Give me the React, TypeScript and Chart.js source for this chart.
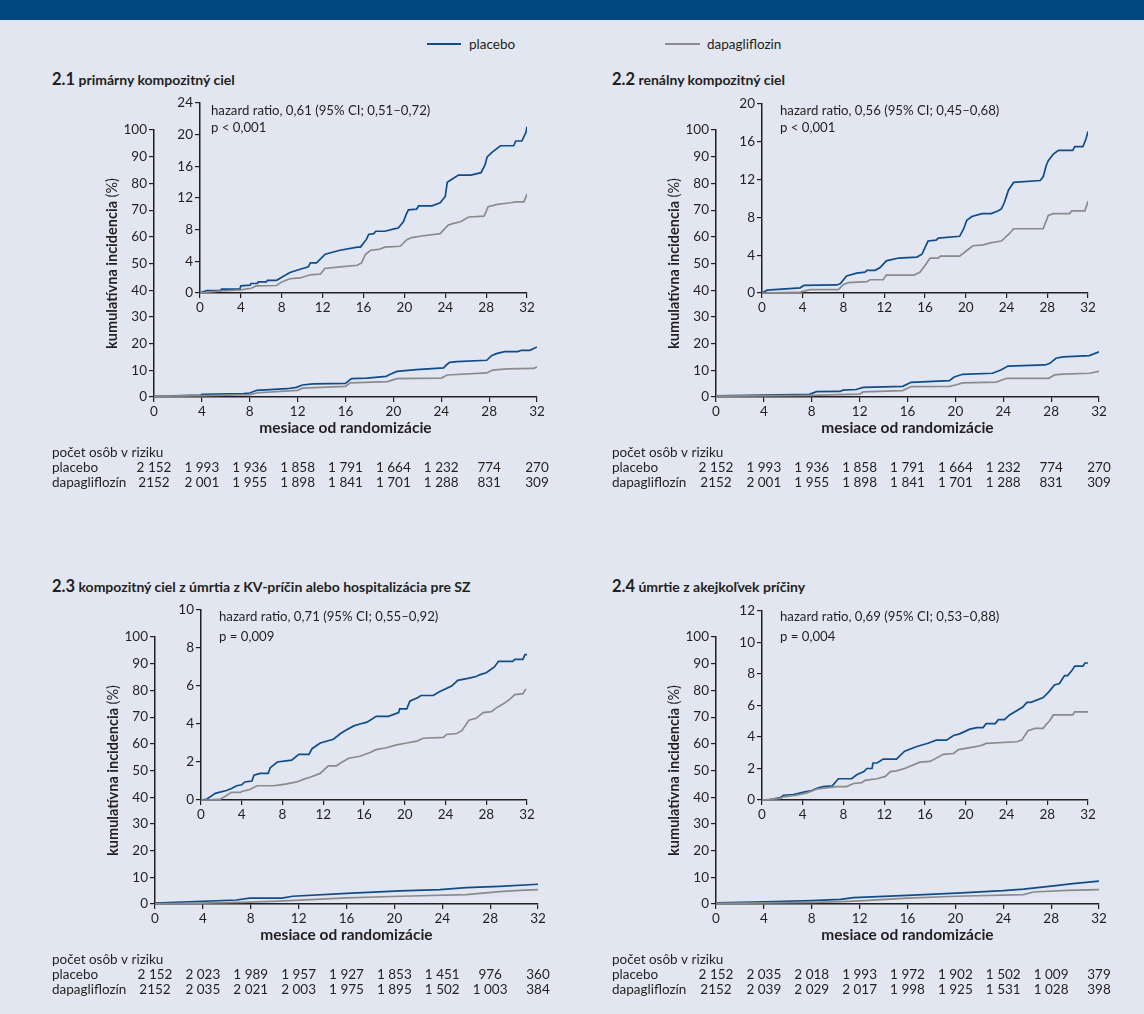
import React, { useEffect, useRef } from "react";
import { Chart, registerables } from "chart.js";

Chart.register(...registerables);

const BLUE = "#114c89";
const GRAY = "#8b8b8b";
const INK = "#231f20";
const BG = "#e2e6f1";
const BAND = "#00467f";
const FONT = "Lato, 'Open Sans', sans-serif";

type Pt = [number, number];

// ---------- data ----------
const xTickValues = [0, 4, 8, 12, 16, 20, 24, 28, 32];
const riskHeader = "počet osôb v riziku";
const seriesNames = ["placebo", "dapagliflozin"];
const riskRowNames = ["placebo", "dapagliflozín"];

// 2.1 primary composite
const main21Placebo: Pt[] = [[0,0.25],[3.9,0.75],[4,1.0],[7.5,1.25],[8,1.5],[8.6,2.5],[11.1,3.1],[11.9,3.6],[12.4,4.5],[13.3,4.9],[16,5.1],[16.5,6.9],[17.8,7.1],[19.4,7.75],[19.7,8.4],[20.3,9.6],[21.9,10.25],[24.2,10.9],[24.4,11.9],[24.7,13],[25.3,13.25],[27.8,13.75],[28.2,15.5],[28.6,16.25],[29.3,17],[30.4,17],[30.7,17.5],[31.4,17.5],[32,18.75]];
const main21Dapa: Pt[] = [[0,0.25],[4,0.5],[8,0.9],[8.7,1.6],[12,2.5],[12.4,3.3],[16,4.0],[16.4,5.3],[19.5,5.75],[20.3,6.9],[24,7.1],[24.5,8.25],[27.8,9.0],[28.3,10.1],[29.5,10.5],[31.7,10.7],[32,11.25]];
const inset21Placebo: Pt[] = [[0,0],[0.65,0.3],[2.0,0.3],[2.1,0.5],[3.9,0.5],[4.0,0.9],[4.9,1.0],[5.0,1.2],[5.6,1.2],[5.7,1.4],[6.5,1.4],[6.6,1.6],[7.5,1.6],[8.0,2.0],[8.8,2.6],[9.8,3.0],[10.6,3.3],[10.8,3.8],[11.4,3.8],[12.25,4.9],[13.7,5.4],[15.4,5.8],[15.7,5.8],[16.3,6.8],[16.5,7.4],[17.0,7.5],[17.2,7.8],[18.1,7.8],[19.0,8.1],[19.4,8.2],[19.9,9.0],[20.2,10.0],[20.4,10.5],[21.2,10.6],[21.4,11.0],[22.7,11.0],[23.5,11.4],[24.0,12.2],[24.2,14.0],[24.8,14.5],[25.3,14.9],[26.5,14.9],[27.5,15.2],[27.9,16.2],[28.1,17.2],[28.6,17.8],[29.4,18.6],[30.7,18.6],[30.9,19.2],[31.5,19.2],[31.9,20.3],[32,21.0]];
const inset21Dapa: Pt[] = [[0,0],[1,0.15],[2,0.25],[4,0.4],[5,0.6],[5.5,0.9],[7.5,0.95],[8,1.4],[8.8,1.8],[9.8,1.9],[10.8,2.3],[11.8,2.4],[12.2,3.1],[13.7,3.3],[15.4,3.5],[15.8,3.8],[16.2,4.9],[16.7,5.4],[17.5,5.5],[18.1,5.8],[19.6,5.9],[20.2,6.7],[20.7,7.0],[21.7,7.2],[23.5,7.5],[24.3,8.6],[24.8,8.8],[25.5,9.0],[26.3,9.6],[27.8,9.7],[28.2,10.9],[29.1,11.2],[30.4,11.4],[30.9,11.5],[31.7,11.5],[32,12.5]];
const risk21Placebo = ["2 152","1 993","1 936","1 858","1 791","1 664","1 232","774","270"];
const risk21Dapa = ["2152","2 001","1 955","1 898","1 841","1 701","1 288","831","309"];

// 2.2 renal composite
const main22Placebo: Pt[] = [[0,0.4],[7.8,1.0],[8.4,2.0],[10.4,2.1],[10.6,2.6],[11.7,2.8],[12.3,3.6],[15.6,4.0],[16.3,5.5],[19.5,6.1],[19.9,7.5],[20.6,8.5],[23.1,8.9],[23.8,10.1],[24.4,11.6],[27.5,12.0],[27.9,12.6],[28.4,14.5],[29,15.0],[31.2,15.5],[32,16.9]];
const main22Dapa: Pt[] = [[0,0.3],[7.8,0.6],[12,1.1],[12.3,1.9],[15.6,2.4],[16.3,3.9],[19.5,4.0],[20.1,4.6],[20.6,5.3],[23.4,5.6],[24.3,7.0],[27.8,7.0],[28.3,8.3],[29,8.6],[31.2,8.9],[32,9.6]];
const inset22Placebo: Pt[] = [[0,0],[0.5,0.3],[3.75,0.55],[4.1,0.8],[7.35,0.85],[7.7,1.0],[8.3,1.8],[9.3,2.1],[10.1,2.2],[10.3,2.4],[11.1,2.4],[11.6,2.7],[12.2,3.4],[12.6,3.5],[13.4,3.7],[15.2,3.8],[15.7,4.1],[16.0,4.8],[16.3,5.5],[17.1,5.6],[17.3,5.8],[19.4,6.0],[19.8,6.8],[20.1,7.7],[20.6,8.1],[21.6,8.4],[22.5,8.4],[23.2,8.7],[23.5,8.9],[23.8,9.6],[24.2,10.9],[24.7,11.7],[27.3,11.9],[27.6,12.3],[27.9,13.5],[28.1,14.0],[28.6,14.7],[29.1,15.1],[30.5,15.1],[30.7,15.5],[31.5,15.5],[31.8,16.3],[32,17.1]];
const inset22Dapa: Pt[] = [[0,0],[3.75,0.1],[4.7,0.35],[7.5,0.35],[8,0.9],[8.5,1.1],[10.3,1.2],[10.6,1.4],[11.9,1.4],[12.2,1.9],[14.9,1.9],[15.5,2.2],[16,2.9],[16.5,3.7],[17.3,3.7],[17.5,3.9],[19.4,3.9],[20.1,4.5],[20.7,5.0],[21.7,5.1],[22.4,5.3],[23.5,5.5],[24.3,6.3],[24.7,6.8],[27.6,6.8],[28.1,8.2],[28.6,8.4],[30.2,8.4],[30.4,8.7],[31.7,8.7],[32,9.7]];
const risk22Placebo = ["2 152","1 993","1 936","1 858","1 791","1 664","1 232","774","270"];
const risk22Dapa = ["2152","2 001","1 955","1 898","1 841","1 701","1 288","831","309"];

// 2.3 CV death or HF hospitalisation
const main23Placebo: Pt[] = [[0,0.3],[6.8,1.5],[7.9,2.2],[10.6,2.2],[11.5,2.9],[16,4.0],[20.5,4.9],[23.8,5.4],[26,6.1],[28.8,6.6],[32,7.4]];
const main23Dapa: Pt[] = [[0,0.1],[3.7,0.3],[7.9,0.7],[10.4,1.1],[16,2.3],[20.5,2.9],[26,3.5],[28.8,4.6],[30.5,5.1],[32,5.4]];
const inset23Placebo: Pt[] = [[0,0],[0.6,0.05],[1.4,0.35],[2.5,0.5],[3,0.6],[3.5,0.75],[4,0.8],[4.3,0.95],[5,1.0],[5.2,1.3],[5.8,1.4],[6.6,1.4],[6.8,1.7],[7.5,2.0],[8.9,2.1],[9.6,2.4],[10.6,2.4],[10.9,2.7],[11.7,3.0],[13,3.2],[13.7,3.5],[14.3,3.7],[15,3.9],[15.6,4.0],[16.3,4.1],[17.2,4.4],[18.4,4.4],[19.4,4.6],[19.5,4.8],[20.2,4.8],[20.5,5.2],[21.3,5.4],[21.6,5.5],[22.8,5.5],[23.4,5.7],[24.6,6.0],[25.2,6.3],[26.2,6.4],[27,6.5],[27.4,6.6],[28,6.7],[28.8,7.0],[29.2,7.3],[30.6,7.3],[30.8,7.4],[31.6,7.4],[31.8,7.65],[32,7.65]];
const inset23Dapa: Pt[] = [[0,0],[0.6,0],[1.9,0.05],[2.4,0.2],[3,0.4],[3.9,0.4],[4,0.45],[4.8,0.55],[5.5,0.75],[7.1,0.75],[7.8,0.8],[8.4,0.85],[9.4,0.95],[10.1,1.1],[10.7,1.2],[11.7,1.4],[12.5,1.8],[13.3,1.8],[13.7,1.95],[14.5,2.2],[15.6,2.3],[16.6,2.5],[17.2,2.65],[18.2,2.75],[19.2,2.9],[20.2,3.0],[21.2,3.1],[21.8,3.25],[23.8,3.3],[24.1,3.45],[25.1,3.5],[25.6,3.65],[26.3,4.2],[27,4.3],[27.7,4.6],[28.5,4.65],[29,4.85],[29.8,5.1],[30.3,5.3],[30.8,5.55],[31.6,5.6],[31.9,5.85]];
const risk23Placebo = ["2 152","2 023","1 989","1 957","1 927","1 853","1 451","976","360"];
const risk23Dapa = ["2152","2 035","2 021","2 003","1 975","1 895","1 502","1 003","384"];

// 2.4 all-cause death
const main24Placebo: Pt[] = [[0,0.4],[4,0.8],[8,1.3],[10.4,1.7],[11.5,2.4],[16,3.2],[20.1,4.1],[24,5.0],[25.7,5.6],[28.4,6.9],[29.8,7.6],[32,8.6]];
const main24Dapa: Pt[] = [[0,0.2],[8,0.6],[10.4,0.9],[12,1.2],[16,2.2],[20.1,2.9],[25.7,3.5],[26.5,4.5],[29.3,5.1],[32,5.4]];
const inset24Placebo: Pt[] = [[0,0],[0.8,0.03],[1.8,0.15],[2.1,0.3],[3.1,0.35],[4.1,0.5],[4.9,0.6],[5.4,0.75],[6,0.85],[6.9,0.9],[7.5,1.35],[8.8,1.35],[9.3,1.6],[10,1.8],[10.3,2.0],[10.8,2.0],[10.9,2.35],[11.3,2.35],[11.9,2.6],[13.2,2.6],[14,3.1],[15.2,3.4],[16.3,3.6],[17.1,3.8],[18.1,3.8],[18.8,4.1],[19.4,4.2],[20.4,4.5],[21.1,4.6],[21.7,4.6],[22,4.85],[22.9,4.85],[23.2,5.1],[23.8,5.1],[24.3,5.4],[25.6,5.9],[26,6.2],[26.4,6.2],[27.6,6.5],[28.2,6.9],[28.7,7.3],[29.2,7.4],[29.4,7.6],[29.7,7.9],[30,7.9],[30.4,8.2],[30.7,8.5],[31.5,8.5],[31.7,8.7],[32,8.7]];
const inset24Dapa: Pt[] = [[0,0],[1.8,0.1],[2.1,0.2],[3.4,0.3],[4.4,0.45],[5.4,0.7],[6.7,0.8],[7.3,0.85],[8.3,0.85],[9,1.05],[9.8,1.1],[10.1,1.25],[11.3,1.35],[12.1,1.5],[12.6,1.8],[13.2,1.85],[14,2.0],[15.5,2.4],[16.5,2.45],[17.8,2.9],[18.8,2.95],[19.3,3.2],[21.1,3.4],[21.7,3.5],[22,3.6],[25,3.7],[25.5,3.8],[26.1,4.4],[26.8,4.55],[27.6,4.55],[27.9,4.8],[28.2,5.0],[28.6,5.4],[30.5,5.4],[30.7,5.6],[32,5.6]];
const risk24Placebo = ["2 152","2 035","2 018","1 993","1 972","1 902","1 502","1 009","379"];
const risk24Dapa = ["2152","2 039","2 029","2 017","1 998","1 925","1 531","1 028","398"];

// ---------- layout ----------
type Box = { L: number; R: number; T: number; B: number };
type Panel = {
  num: string; title: string; titleX: number; titleY: number;
  main: Box; inset: Box; insetMax: number; insetStep: number;
  hr: string; p: string; hrX: number; hrY1: number; hrY2: number;
  mainP: Pt[]; mainD: Pt[]; insP: Pt[]; insD: Pt[];
  riskP: string[]; riskD: string[]; riskLabelOffset: number;
};

const panels: Panel[] = [
  { num: "2.1", title: "primárny kompozitný ciel", titleX: 52, titleY: 79,
    main: { L: 154, R: 537, T: 130, B: 397 }, inset: { L: 200, R: 527, T: 103, B: 293 }, insetMax: 24, insetStep: 4,
    hr: "hazard ratio, 0,61 (95% CI; 0,51–0,72)", p: "p < 0,001", hrX: 211, hrY1: 110, hrY2: 127,
    mainP: main21Placebo, mainD: main21Dapa, insP: inset21Placebo, insD: inset21Dapa,
    riskP: risk21Placebo, riskD: risk21Dapa, riskLabelOffset: 102 },
  { num: "2.2", title: "renálny kompozitný ciel", titleX: 612, titleY: 79,
    main: { L: 716, R: 1099, T: 130, B: 397 }, inset: { L: 762, R: 1088, T: 104, B: 293 }, insetMax: 20, insetStep: 4,
    hr: "hazard ratio, 0,56 (95% CI; 0,45–0,68)", p: "p < 0,001", hrX: 780, hrY1: 110, hrY2: 127,
    mainP: main22Placebo, mainD: main22Dapa, insP: inset22Placebo, insD: inset22Dapa,
    riskP: risk22Placebo, riskD: risk22Dapa, riskLabelOffset: 104 },
  { num: "2.3", title: "kompozitný ciel z úmrtia z KV-príčin alebo hospitalizácia pre SZ", titleX: 52, titleY: 586,
    main: { L: 155, R: 538, T: 637, B: 904 }, inset: { L: 201, R: 527, T: 610, B: 800 }, insetMax: 10, insetStep: 2,
    hr: "hazard ratio, 0,71 (95% CI; 0,55–0,92)", p: "p = 0,009", hrX: 219, hrY1: 616, hrY2: 636,
    mainP: main23Placebo, mainD: main23Dapa, insP: inset23Placebo, insD: inset23Dapa,
    riskP: risk23Placebo, riskD: risk23Dapa, riskLabelOffset: 103 },
  { num: "2.4", title: "úmrtie z akejkoľvek príčiny", titleX: 612, titleY: 586,
    main: { L: 716, R: 1099, T: 637, B: 904 }, inset: { L: 762, R: 1088, T: 611, B: 800 }, insetMax: 12, insetStep: 2,
    hr: "hazard ratio, 0,69 (95% CI; 0,53–0,88)", p: "p = 0,004", hrX: 780, hrY1: 616, hrY2: 636,
    mainP: main24Placebo, mainD: main24Dapa, insP: inset24Placebo, insD: inset24Dapa,
    riskP: risk24Placebo, riskD: risk24Dapa, riskLabelOffset: 104 },
];

// ---------- plugins ----------
function makeYTitlePlugin(bold: string, normal: string, offset: number) {
  return {
    id: "yTitleCustom",
    afterDraw(chart: any) {
      const { ctx, chartArea } = chart;
      const x = chartArea.left - offset;
      const y = (chartArea.top + chartArea.bottom) / 2;
      ctx.save();
      ctx.translate(x, y);
      ctx.rotate(-Math.PI / 2);
      ctx.fillStyle = INK;
      ctx.textBaseline = "middle";
      ctx.textAlign = "left";
      const fb = `bold 14.5px ${FONT}`;
      const fn = `14.5px ${FONT}`;
      ctx.font = fb;
      const w1 = ctx.measureText(bold).width;
      ctx.font = fn;
      const w2 = ctx.measureText(normal).width;
      const sx = -(w1 + w2) / 2;
      ctx.font = fb;
      ctx.fillText(bold, sx, 0);
      ctx.font = fn;
      ctx.fillText(normal, sx + w1, 0);
      ctx.restore();
    },
  };
}

function makeRiskPlugin(placebo: string[], dapa: string[], labelOffset: number) {
  return {
    id: "riskTable",
    afterDraw(chart: any) {
      const { ctx, chartArea } = chart;
      const xs = chart.scales.x;
      ctx.save();
      ctx.fillStyle = INK;
      ctx.font = `13.5px ${FONT}`;
      ctx.textBaseline = "middle";
      const lx = chartArea.left - labelOffset;
      const y0 = chartArea.bottom + 56;
      ctx.textAlign = "left";
      ctx.fillText(riskHeader, lx, y0);
      const rows = [placebo, dapa];
      rows.forEach((vals, i) => {
        const y = chartArea.bottom + 71 + i * 15;
        ctx.textAlign = "left";
        ctx.fillText(riskRowNames[i], lx, y);
        ctx.textAlign = "center";
        vals.forEach((v, j) => ctx.fillText(v, xs.getPixelForValue(xTickValues[j]), y));
      });
      ctx.restore();
    },
  };
}

function axisCommon() {
  return {
    grid: { drawOnChartArea: false, drawTicks: true, tickLength: 5, color: INK, lineWidth: 1.2 },
    border: { display: true, color: INK, width: 1.5 },
  };
}

function lineDataset(label: string, pts: Pt[], color: string) {
  return {
    label,
    data: pts.map(([x, y]) => ({ x, y })),
    borderColor: color,
    borderWidth: 1.7,
    pointRadius: 0,
    tension: 0,
    fill: false,
  };
}

function ChartCanvas(props: { left: number; top: number; width: number; height: number; makeConfig: () => any }) {
  const ref = useRef<HTMLCanvasElement | null>(null);
  useEffect(() => {
    if (!ref.current) return;
    const chart = new Chart(ref.current, props.makeConfig());
    return () => chart.destroy();
  }, []);
  return (
    <canvas
      ref={ref}
      width={props.width}
      height={props.height}
      style={{ position: "absolute", left: props.left, top: props.top, width: props.width, height: props.height }}
    />
  );
}

function mainConfig(p: Panel) {
  return {
    type: "line",
    data: {
      datasets: [
        lineDataset(seriesNames[1], p.mainD, GRAY),
        lineDataset(seriesNames[0], p.mainP, BLUE),
      ],
    },
    options: {
      animation: false,
      responsive: false,
      devicePixelRatio: 1,
      events: [],
      layout: { padding: { left: 64, top: 12, right: 14, bottom: 60 } },
      plugins: { legend: { display: false }, tooltip: { enabled: false } },
      scales: {
        x: {
          type: "linear", min: 0, max: 32,
          afterFit: (s: any) => { s.height = 40; },
          ticks: { stepSize: 4, color: INK, font: { family: FONT, size: 13.5 }, padding: 2, maxRotation: 0, autoSkip: false },
          title: { display: true, text: "mesiace od randomizácie", color: INK, font: { family: FONT, size: 15.5, weight: "bold" }, padding: 0 },
          ...axisCommon(),
        },
        y: {
          type: "linear", min: 0, max: 100,
          afterFit: (s: any) => { s.width = 50; },
          ticks: { stepSize: 10, color: INK, font: { family: FONT, size: 13.5 }, padding: 2 },
          ...axisCommon(),
        },
      },
    },
    plugins: [makeYTitlePlugin("kumulatívna incidencia ", "(%)", 42), makeRiskPlugin(p.riskP, p.riskD, p.riskLabelOffset)],
  };
}

function insetConfig(p: Panel) {
  return {
    type: "line",
    data: {
      datasets: [
        lineDataset(seriesNames[1], p.insD, GRAY),
        lineDataset(seriesNames[0], p.insP, BLUE),
      ],
    },
    options: {
      animation: false,
      responsive: false,
      devicePixelRatio: 1,
      events: [],
      layout: { padding: { left: 4, top: 12, right: 14, bottom: 4 } },
      plugins: { legend: { display: false }, tooltip: { enabled: false } },
      scales: {
        x: {
          type: "linear", min: 0, max: 32,
          afterFit: (s: any) => { s.height = 20; },
          ticks: { stepSize: 4, color: INK, font: { family: FONT, size: 13.5 }, padding: 2, maxRotation: 0, autoSkip: false },
          ...axisCommon(),
        },
        y: {
          type: "linear", min: 0, max: p.insetMax,
          afterFit: (s: any) => { s.width = 30; },
          ticks: { stepSize: p.insetStep, color: INK, font: { family: FONT, size: 13.5 }, padding: 2 },
          ...axisCommon(),
        },
      },
    },
  };
}

const textStyle = (left: number, cy: number, size: number, extra: any = {}) => ({
  position: "absolute" as const,
  left,
  top: cy - 9,
  height: 18,
  lineHeight: "18px",
  fontSize: size,
  fontFamily: FONT,
  color: INK,
  whiteSpace: "nowrap" as const,
  ...extra,
});

function PanelView({ p }: { p: Panel }) {
  const m = p.main;
  const i = p.inset;
  return (
    <>
      <div style={textStyle(p.titleX, p.titleY, 14, { fontWeight: 700 })}>
        <span style={{ fontSize: 16.5 }}>{p.num}</span> {p.title}
      </div>
      <ChartCanvas
        left={m.L - 114}
        top={m.T - 12}
        width={m.R - m.L + 128}
        height={m.B - m.T + 112}
        makeConfig={() => mainConfig(p)}
      />
      <ChartCanvas
        left={i.L - 34}
        top={i.T - 12}
        width={i.R - i.L + 48}
        height={i.B - i.T + 36}
        makeConfig={() => insetConfig(p)}
      />
      <div style={textStyle(p.hrX, p.hrY1, 13.2)}>{p.hr}</div>
      <div style={textStyle(p.hrX, p.hrY2, 13.2)}>{p.p}</div>
    </>
  );
}

export default function App() {
  return (
    <div style={{ position: "absolute", left: 0, top: 0, width: 1144, height: 1014, background: BG, overflow: "hidden" }}>
      <div style={{ position: "absolute", left: 0, top: 0, width: 1144, height: 20, background: BAND }} />
      <div style={{ position: "absolute", left: 427, top: 43, width: 34, height: 1.6, background: BLUE }} />
      <div style={textStyle(469, 44, 13.5)}>{seriesNames[0]}</div>
      <div style={{ position: "absolute", left: 665, top: 43, width: 35, height: 1.6, background: GRAY }} />
      <div style={textStyle(707, 44, 13.5)}>{seriesNames[1]}</div>
      {panels.map((p) => (
        <PanelView key={p.num} p={p} />
      ))}
    </div>
  );
}
